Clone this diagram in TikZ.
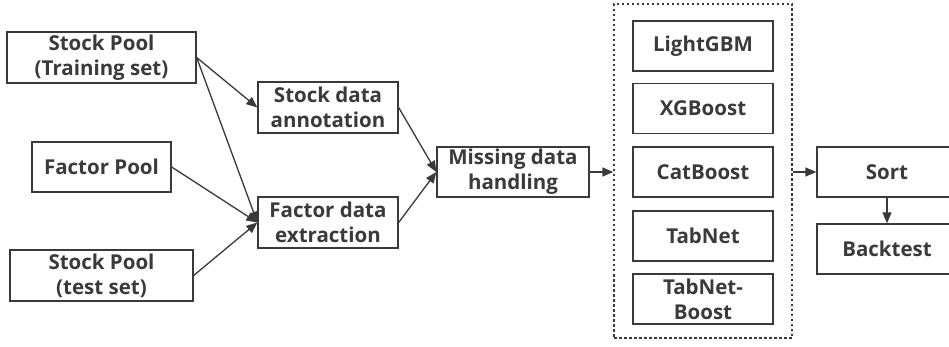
\documentclass[tikz,border=0pt]{standalone}
\usepackage{fontspec}
\setmainfont{Open Sans}
\usetikzlibrary{arrows.meta}
\definecolor{ink}{HTML}{3A3A3A}
\tikzset{
  box/.style={draw=ink, line width=1.3pt, rectangle, minimum width=140pt, minimum height=50pt,
    inner sep=0pt, align=center, text=ink, font=\fontsize{20.5}{25}\selectfont\bfseries},
  arr/.style={draw=ink, line width=1.3pt, -{Triangle[length=11pt,width=9pt]}},
  group/.style={draw=ink, line width=1.3pt, dash pattern=on 2.5pt off 2.5pt, rectangle, inner sep=0pt}
}
\begin{document}
\begin{tikzpicture}[x=1pt,y=-1pt]
\useasboundingbox (0,0) rectangle (949,347);
\fill[white] (0,0) rectangle (949,347);
\clip (0,0) rectangle (949,347);
\node[box, minimum width=189pt, minimum height=51pt] (tr) at (101.5,57.5) {Stock Pool\\(Training set)};
\node[box, minimum width=139pt] (fp) at (101.5,167) {Factor Pool};
\node[box, minimum width=183pt, minimum height=51pt] (te) at (101.5,275.5) {Stock Pool\\(test set)};
\node[box, minimum height=51pt] (sa) at (328,107.5) {Stock data\\annotation};
\node[box, minimum height=51pt] (fe) at (328,222.5) {Factor data\\extraction};
\node[box, minimum width=152pt] (md) at (513,172) {Missing data\\handling};
\node[group, minimum width=178pt, minimum height=334pt] (grp) at (703,171) {};
\node[box] (m1) at (703,46) {LightGBM};
\node[box] (m2) at (703,108.5) {XGBoost};
\node[box] (m3) at (703,172) {CatBoost};
\node[box] (m4) at (703,236) {TabNet};
\node[box] (m5) at (703,299) {TabNet-\\Boost};
\node[box] (so) at (887,172) {Sort};
\node[box] (bt) at (887,249) {Backtest};
\coordinate (gin) at (grp.west |- md.east);
\coordinate (gout) at (grp.east |- so.west);
\draw[arr] (tr.east) -- (sa.west);
\draw[arr] (tr.east) -- (fe.west);
\draw[arr] (fp.east) -- (fe.west);
\draw[arr] (te.east) -- (fe.west);
\draw[arr] (sa.east) -- (md.west);
\draw[arr] (fe.east) -- (md.west);
\draw[arr] (md.east) -- (gin);
\draw[arr] (gout) -- (so.west);
\draw[arr] (so.south) -- (bt.north);
\end{tikzpicture}
\end{document}
